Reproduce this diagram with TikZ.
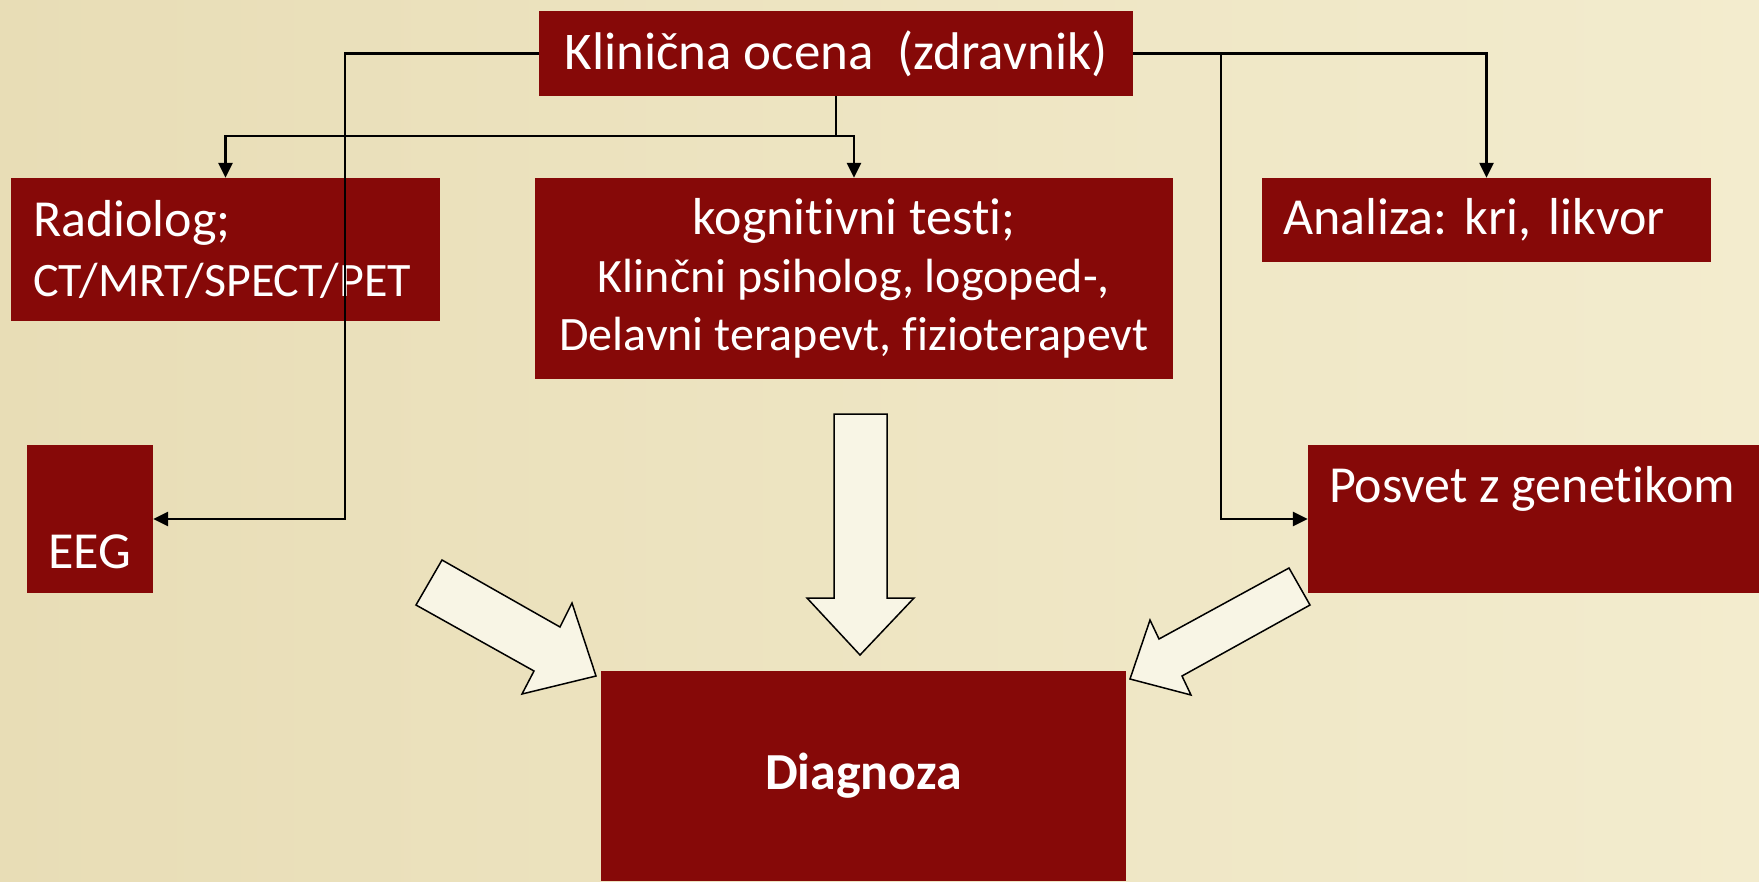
\documentclass[tikz,border=0pt]{standalone}
\usepackage{fontspec}
\setmainfont{Carlito}[Ligatures={NoCommon}]
\frenchspacing
\usetikzlibrary{
  arrows.meta,
  calc,
  positioning,
}
\definecolor{boxred}{RGB}{134, 9, 8}
\definecolor{parchment}{RGB}{243, 236, 206}
\definecolor{parchmentdark}{RGB}{232, 221, 182}
\definecolor{arrowfill}{RGB}{248, 245, 229}
\newcommand{\bigfs}{\fontsize{52}{60}\selectfont}
\newcommand{\midfs}{\fontsize{48}{58}\selectfont}
\tikzstyle{box} = [
  fill=boxred,
  text=white,
  inner sep=0pt,
  font=\bigfs,
]
\tikzstyle{boxtext} = [
  text=white,
  inner sep=0pt,
  font=\bigfs,
]
\tikzstyle{link} = [
  -{Triangle[length=15pt,width=14pt]},
  line width=2.5pt,
  black,
]
\tikzstyle{bigarrow} = [
  fill=arrowfill,
  draw=black,
  line width=1.5pt,
  line join=miter,
]

\begin{document}
\begin{tikzpicture}[x=1pt, y=-1pt]

        \shade [left color=parchmentdark, right color=parchment] (0,0) rectangle (1759,881);
        \useasboundingbox (0,0) rectangle (1759,881);

        \node [box, minimum width=594pt, minimum height=85pt, font=\fontsize{53}{60}\selectfont]
              (klin) at (836,53.5) {Klinična ocena\ \ (zdravnik)};

        \node [box, minimum width=429pt, minimum height=143pt, text width=385pt, inner xsep=22pt, align=left]
              (radio) at (225.5,249.5) {Radiolog;\\{\midfs CT/MRT/SPECT/PET}};

        \node [box, minimum width=638pt, minimum height=201pt, align=center, font=\fontsize{52}{58}\selectfont]
              (kog) at (854,278.5)
              {kognitivni testi;\\{\midfs Klinčni psiholog, logoped-,}\\{\midfs Delavni terapevt, fizioterapevt}};

        \node [box, minimum width=449pt, minimum height=84pt, text width=407pt, inner xsep=21pt, align=left]
              (anal) at (1486.5,220) {Analiza: kri, likvor};

        \node [box, minimum width=126pt, minimum height=148pt] (eeg) at (90,519) {};

        \node [boxtext, anchor=base] (eegtxt) at ([yshift=25pt]eeg.south) {EEG};

        \node [box, minimum width=451pt, minimum height=148pt] (posvet) at (1533.5,519) {};

        \node [boxtext, anchor=base west] (posvettxt) at ([xshift=21pt,yshift=-58pt]posvet.north west)
              {Posvet z genetikom};

        \node [box, minimum width=525pt, minimum height=210pt, font=\bfseries\bigfs]
              (diag) at (863.5,776) {Diagnoza};

        \coordinate (split) at (836,136);
        \coordinate (lbend) at (345,53.5);
        \coordinate (rbend) at (1221,53.5);

        \draw [link] (klin.west) -- (lbend) |- (eeg.east);

        \draw [line width=2.5pt] (klin.south) -- (split);

        \draw [link] (split) -| (radio.north);

        \draw [link] (split) -| (kog.north);

        \draw [link] (klin.east) -| (anal.north);

        \draw [link] (rbend) |- (posvet.west);

        \draw [bigarrow] (442,560) -- (560,627) -- (572,603) -- (596,676)
              -- (522,694) -- (534,671) -- (416,605) -- cycle;

        \draw [bigarrow] (834,414) -- (887,414) -- (887,598) -- (914,598)
              -- (860,655) -- (807,598) -- (834,598) -- cycle;

        \draw [bigarrow] (1289,568) -- (1159,639) -- (1150,620) -- (1130,679)
              -- (1191,695) -- (1182,676) -- (1310,605) -- cycle;
      \end{tikzpicture}
\end{document}
